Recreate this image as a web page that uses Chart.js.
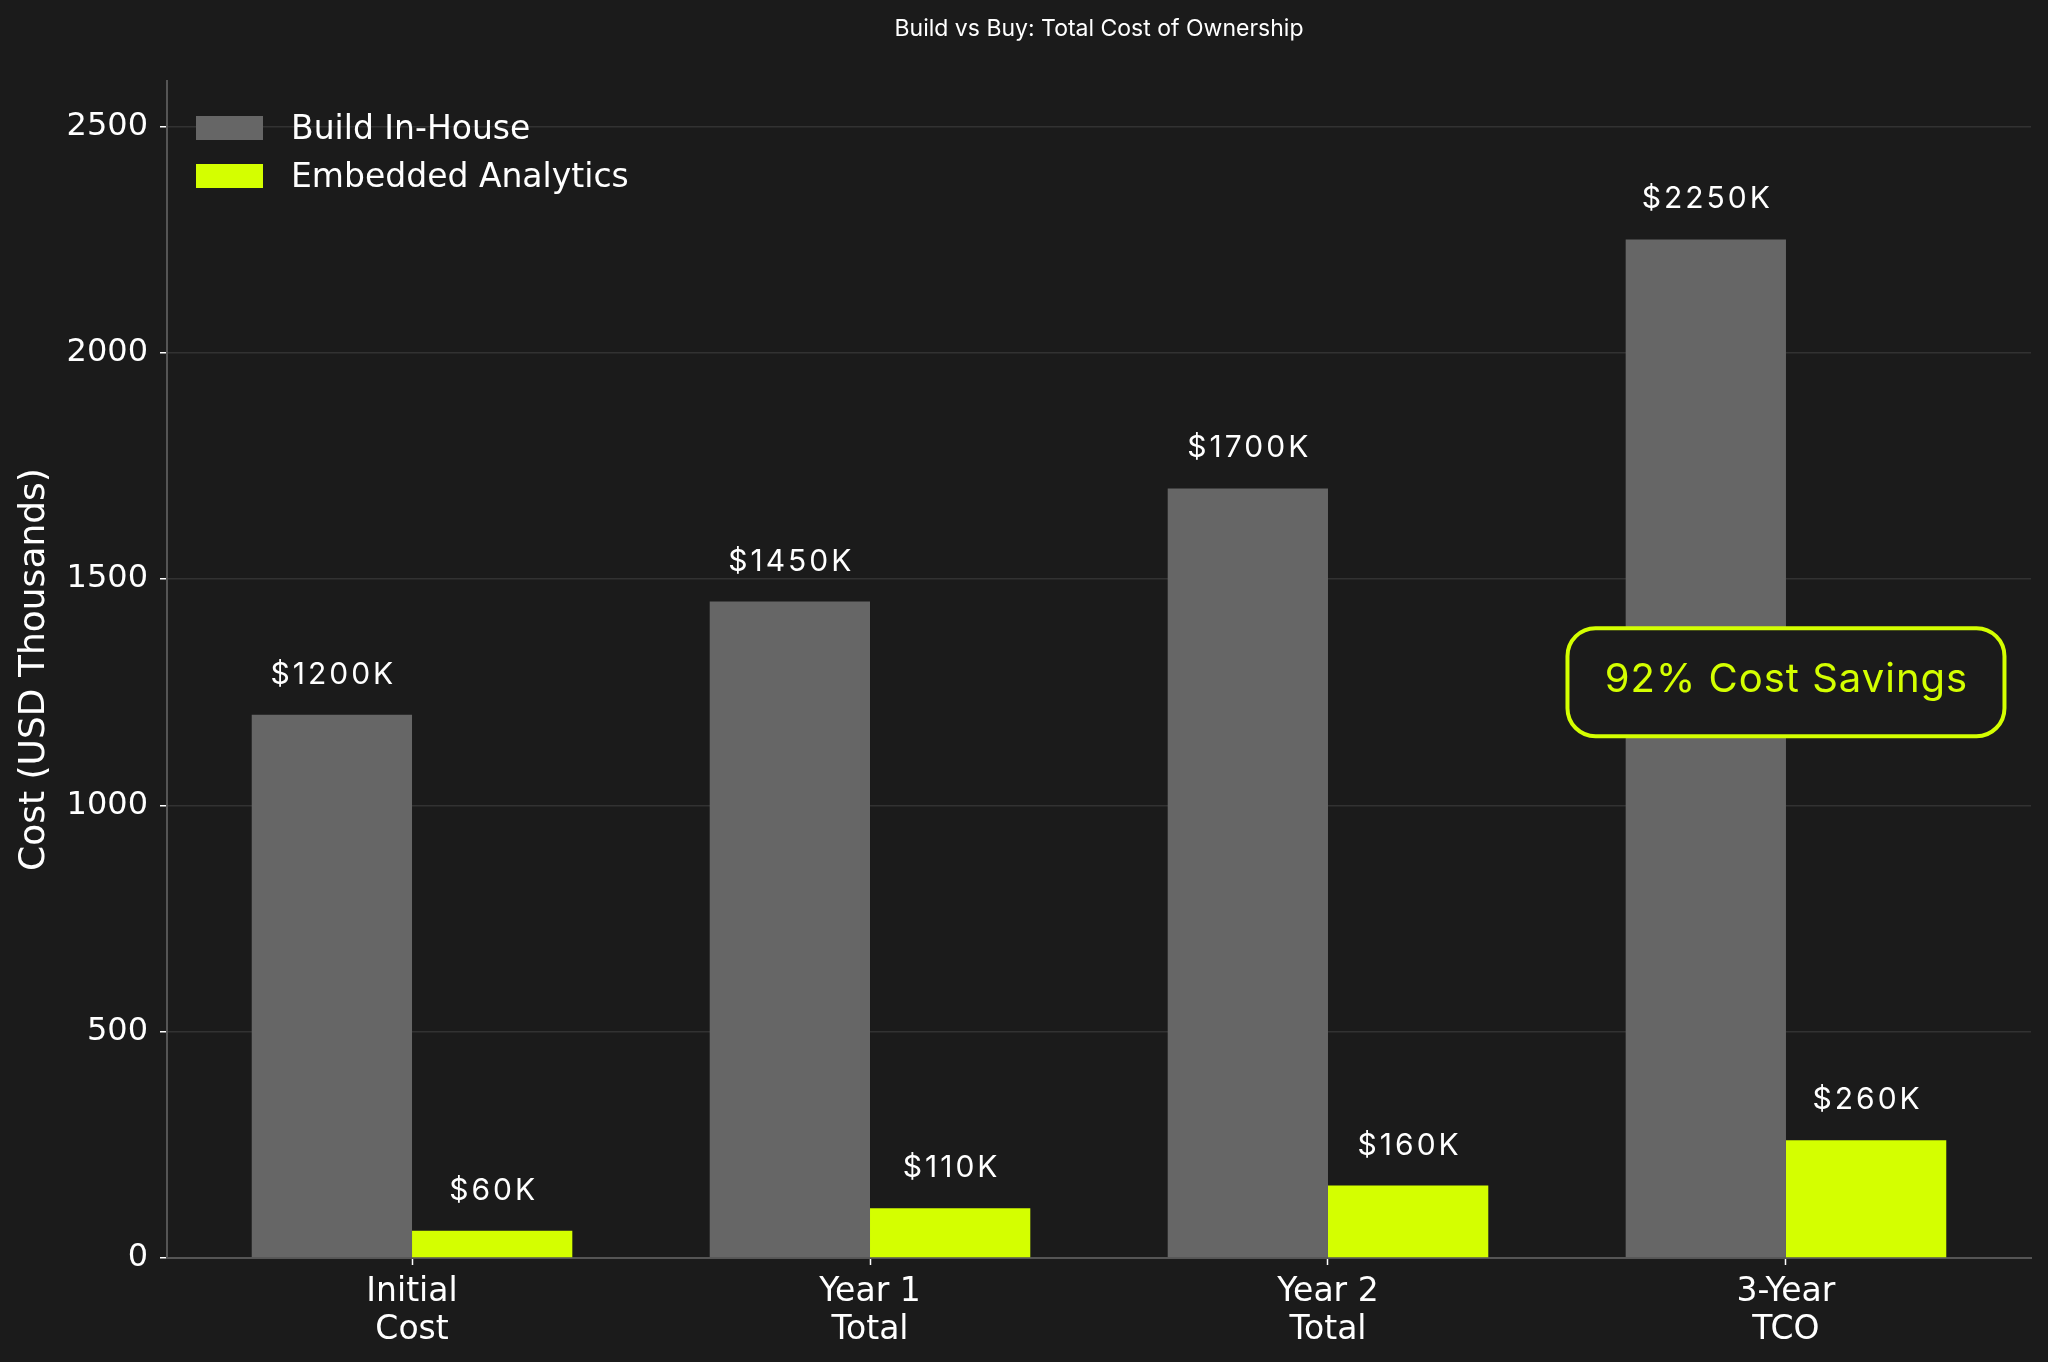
<!DOCTYPE html>
<html>
<head>
<meta charset="utf-8">
<title>Build vs Buy: Total Cost of Ownership</title>
<script src="https://cdn.jsdelivr.net/npm/chart.js@4.4.1/dist/chart.umd.min.js"></script>
<style>
  html, body { margin: 0; padding: 0; background: #1b1b1b; }
  #wrap { width: 2048px; height: 1362px; position: relative; }
</style>
</head>
<body>
<div id="wrap"><canvas id="tcoChart"></canvas></div>
<script>
// --- data ---
const categories = [['Initial', 'Cost'], ['Year 1', 'Total'], ['Year 2', 'Total'], ['3-Year', 'TCO']];
const buildInHouse = [1200, 1450, 1700, 2250];
const embeddedAnalytics = [60, 110, 160, 260];
const yTicks = [0, 500, 1000, 1500, 2000, 2500];
const seriesNames = ['Build In-House', 'Embedded Analytics'];
const chartTitle = 'Build vs Buy: Total Cost of Ownership';
const yAxisTitle = 'Cost (USD Thousands)';
const savingsNote = '92% Cost Savings';

const BG = '#1b1b1b';
const GREY = '#666666';
const LIME = '#d4ff00';
const AXIS_FONT = "'DejaVu Sans', sans-serif";
const LABEL_FONT = "Inter, 'Noto Sans', sans-serif";

const toPoints = (vals) => vals.map((v, i) => ({ x: i, y: v }));

// centred text with letter spacing (canvas adds the gap after the last glyph too)
function spacedText(ctx, text, x, y, spacing) {
    ctx.letterSpacing = spacing + 'px';
    ctx.fillText(text, x + spacing / 2, y);
    ctx.letterSpacing = '0px';
}

// title, legend, value labels and the savings callout
const overlay = {
    id: 'overlay',
    afterDatasetsDraw(chart) {
        const { ctx, scales } = chart;
        ctx.save();
        ctx.font = `30px ${LABEL_FONT}`;
        ctx.fillStyle = '#ffffff';
        ctx.textAlign = 'center';
        ctx.textBaseline = 'middle';
        chart.data.datasets.forEach((ds, di) => {
            chart.getDatasetMeta(di).data.forEach((bar, i) => {
                spacedText(ctx, '$' + ds.data[i].y + 'K', bar.x, bar.y - 40, 3);
            });
        });

        // callout box over the last group
        const cx = scales.x.getPixelForValue(3);
        const cy = scales.y.getPixelForValue(1272);
        const w = 437, h = 108, r = 28;
        ctx.beginPath();
        ctx.roundRect(cx - w / 2, cy - h / 2, w, h, r);
        ctx.fillStyle = BG;
        ctx.fill();
        ctx.lineWidth = 4;
        ctx.strokeStyle = LIME;
        ctx.stroke();
        ctx.font = `40px ${LABEL_FONT}`;
        ctx.fillStyle = LIME;
        spacedText(ctx, savingsNote, cx, cy - 2, 1);
        ctx.restore();
    },
    afterDraw(chart) {
        const { ctx, chartArea } = chart;
        ctx.save();
        ctx.fillStyle = '#ffffff';
        ctx.font = `23px ${LABEL_FONT}`;
        ctx.textAlign = 'center';
        ctx.textBaseline = 'middle';
        ctx.fillText(chartTitle, (chartArea.left + chartArea.right) / 2, 29);

        // legend, top-left inside the plot
        const colors = [GREY, LIME];
        ctx.font = `33px ${AXIS_FONT}`;
        ctx.textAlign = 'left';
        seriesNames.forEach((name, i) => {
            const y = 128 + i * 48;
            ctx.fillStyle = colors[i];
            ctx.fillRect(chartArea.left + 29, y - 12, 67, 24);
            ctx.fillStyle = '#ffffff';
            ctx.fillText(name, chartArea.left + 124, y + 2);
        });
        ctx.restore();
    }
};

new Chart(document.getElementById('tcoChart'), {
    type: 'bar',
    data: {
        datasets: [
            { label: seriesNames[0], data: toPoints(buildInHouse), backgroundColor: GREY },
            { label: seriesNames[1], data: toPoints(embeddedAnalytics), backgroundColor: LIME }
        ]
    },
    options: {
        responsive: true,
        maintainAspectRatio: false,
        animation: false,
        devicePixelRatio: 1,
        layout: { padding: { top: 81, right: 17, left: 0, bottom: 0 } },
        categoryPercentage: 0.7,
        barPercentage: 1.0,
        plugins: {
            legend: { display: false },
            title: { display: false },
            tooltip: { enabled: false }
        },
        scales: {
            x: {
                type: 'linear',
                min: -0.535,
                max: 3.535,
                offset: false,
                afterBuildTicks: (scale) => {
                    scale.ticks = categories.map((_, i) => ({ value: i }));
                },
                afterFit: (scale) => { scale.height = 1362 - 1258; },
                ticks: {
                    autoSkip: false,
                    maxRotation: 0,
                    padding: 8,
                    color: '#ffffff',
                    font: { family: AXIS_FONT, size: 33, lineHeight: 1.15 },
                    callback: (v) => categories[v]
                },
                grid: {
                    offset: false,
                    drawOnChartArea: false,
                    drawTicks: true,
                    tickLength: 7,
                    tickColor: '#ffffff',
                    tickWidth: 1.5
                },
                border: { display: true, color: '#555555', width: 2 }
            },
            y: {
                min: 0,
                max: 2600,
                afterBuildTicks: (scale) => {
                    scale.ticks = yTicks.map(v => ({ value: v }));
                },
                afterFit: (scale) => { scale.width = 167; },
                ticks: {
                    padding: 12,
                    color: '#ffffff',
                    font: { family: AXIS_FONT, size: 32 },
                    callback: (v) => String(v)
                },
                grid: {
                    color: 'rgba(255,255,255,0.1)',
                    lineWidth: 1.5,
                    tickLength: 7,
                    tickColor: '#ffffff',
                    tickWidth: 1.5
                },
                border: { display: true, color: '#555555', width: 2 },
                title: {
                    display: true,
                    text: yAxisTitle,
                    color: '#ffffff',
                    font: { family: AXIS_FONT, size: 36 },
                    padding: { top: 13, bottom: 0 }
                }
            }
        }
    },
    plugins: [overlay]
});
</script>
</body>
</html>
